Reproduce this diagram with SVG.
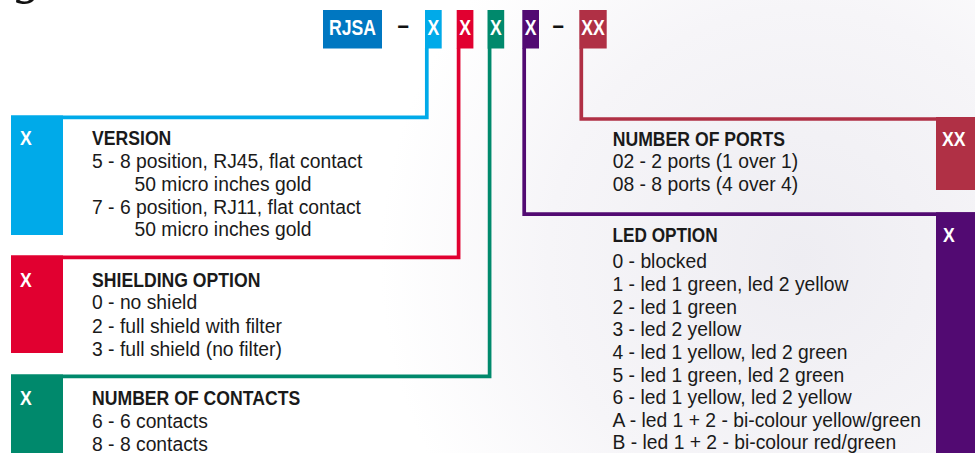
<svg xmlns="http://www.w3.org/2000/svg" width="975" height="453" viewBox="0 0 975 453">
<defs>
<radialGradient id="bg" cx="800" cy="260" r="420" gradientUnits="userSpaceOnUse">
<stop offset="0" stop-color="#eeedf2"/>
<stop offset="0.6" stop-color="#f6f5f8"/>
<stop offset="1" stop-color="#ffffff"/>
</radialGradient>
<style>
text{font-family:"Liberation Sans",Arial,sans-serif;font-size:21px;fill:#1a1a1a}
.h{font-weight:bold}
.w{font-weight:bold;fill:#ffffff}
.hd{font-weight:bold;font-size:22px;fill:#ffffff}
.dash{font-weight:bold;font-size:25px;fill:#111111}
.conn{fill:none;stroke-width:3.7;stroke-linejoin:miter}
</style>
</defs>
<rect x="0" y="0" width="975" height="453" fill="#ffffff"/>
<rect x="0" y="0" width="975" height="453" fill="url(#bg)"/>
<text x="16" y="-7" style="font-family:'Liberation Serif',serif;font-size:52px;font-style:italic;fill:#111">g</text>

<g id="code">
<rect x="323" y="10" width="59" height="38.5" fill="#0077c1"/>
<text class="hd" text-anchor="middle" transform="translate(352.5,34.5) scale(0.8,1)">RJSA</text>
<text class="dash" transform="translate(397.5,34) scale(0.82,1)">–</text>
<rect x="425" y="10" width="16.7" height="38.5" fill="#00aae9"/>
<text class="hd" text-anchor="middle" transform="translate(433.4,34.5) scale(0.8,1)">X</text>
<rect x="456.7" y="10" width="16.7" height="38.5" fill="#e10030"/>
<text class="hd" text-anchor="middle" transform="translate(465,34.5) scale(0.8,1)">X</text>
<rect x="487.5" y="10" width="16.7" height="38.5" fill="#00896c"/>
<text class="hd" text-anchor="middle" transform="translate(495.8,34.5) scale(0.8,1)">X</text>
<rect x="522.3" y="10" width="16.7" height="38.5" fill="#520a72"/>
<text class="hd" text-anchor="middle" transform="translate(530.6,34.5) scale(0.8,1)">X</text>
<text class="dash" transform="translate(552.5,34) scale(0.82,1)">–</text>
<rect x="579.3" y="10" width="27.4" height="38.5" fill="#b03045"/>
<text class="hd" text-anchor="middle" transform="translate(593,34.5) scale(0.8,1)">XX</text>
</g>

<g id="connectors">
<path class="conn" stroke="#00aae9" d="M426.8,48 V117.3 H11"/>
<path class="conn" stroke="#e10030" d="M458.6,48 V257.3 H11"/>
<path class="conn" stroke="#00896c" d="M489.6,48 V376.3 H11"/>
<path class="conn" stroke="#520a72" d="M524.2,48 V214.2 H975"/>
<path class="conn" stroke="#b03045" d="M581.3,48 V119 H975"/>
</g>

<g id="version">
<rect x="11" y="115.5" width="52" height="119.5" fill="#00aae9"/>
<text class="w" transform="translate(20,145) scale(0.84,1)">X</text>
<text class="h" transform="translate(92,145) scale(0.84,1)">VERSION</text>
<text transform="translate(92,168) scale(0.92,1)">5 - 8 position, RJ45, flat contact</text>
<text transform="translate(134.5,191) scale(0.92,1)">50 micro inches gold</text>
<text transform="translate(92,213.5) scale(0.92,1)">7 - 6 position, RJ11, flat contact</text>
<text transform="translate(134.5,236) scale(0.92,1)">50 micro inches gold</text>
</g>

<g id="shielding">
<rect x="11" y="255.5" width="52" height="97.5" fill="#e10030"/>
<text class="w" transform="translate(20,286.5) scale(0.84,1)">X</text>
<text class="h" transform="translate(92,286.5) scale(0.84,1)">SHIELDING OPTION</text>
<text transform="translate(92,309) scale(0.92,1)">0 - no shield</text>
<text transform="translate(92,332.5) scale(0.92,1)">2 - full shield with filter</text>
<text transform="translate(92,355.5) scale(0.92,1)">3 - full shield (no filter)</text>
</g>

<g id="contacts">
<rect x="11" y="374.5" width="52" height="78.5" fill="#00896c"/>
<text class="w" transform="translate(20,405) scale(0.84,1)">X</text>
<text class="h" transform="translate(92,405) scale(0.84,1)">NUMBER OF CONTACTS</text>
<text transform="translate(92,428) scale(0.92,1)">6 - 6 contacts</text>
<text transform="translate(92,451) scale(0.92,1)">8 - 8 contacts</text>
</g>

<g id="ports">
<rect x="936" y="117" width="39" height="73" fill="#b03045"/>
<text class="w" transform="translate(942,145.5) scale(0.84,1)">XX</text>
<text class="h" transform="translate(612.7,145.5) scale(0.84,1)">NUMBER OF PORTS</text>
<text transform="translate(612.7,168) scale(0.92,1)">02 - 2 ports (1 over 1)</text>
<text transform="translate(612.7,191) scale(0.92,1)">08 - 8 ports (4 over 4)</text>
</g>

<g id="led">
<rect x="936" y="212.3" width="39" height="240.7" fill="#520a72"/>
<text class="w" transform="translate(943,241.5) scale(0.84,1)">X</text>
<text class="h" transform="translate(612.5,241.5) scale(0.82,1)">LED OPTION</text>
<text transform="translate(612.5,268.3) scale(0.92,1)">0 - blocked</text>
<text transform="translate(612.5,291) scale(0.92,1)">1 - led 1 green, led 2 yellow</text>
<text transform="translate(612.5,313.6) scale(0.92,1)">2 - led 1 green</text>
<text transform="translate(612.5,336.3) scale(0.92,1)">3 - led 2 yellow</text>
<text transform="translate(612.5,359) scale(0.92,1)">4 - led 1 yellow, led 2 green</text>
<text transform="translate(612.5,381.6) scale(0.92,1)">5 - led 1 green, led 2 green</text>
<text transform="translate(612.5,404.2) scale(0.92,1)">6 - led 1 yellow, led 2 yellow</text>
<text transform="translate(612.5,426.8) scale(0.92,1)">A - led 1 + 2 - bi-colour yellow/green</text>
<text transform="translate(612.5,449.4) scale(0.92,1)">B - led 1 + 2 - bi-colour red/green</text>
</g>
</svg>
